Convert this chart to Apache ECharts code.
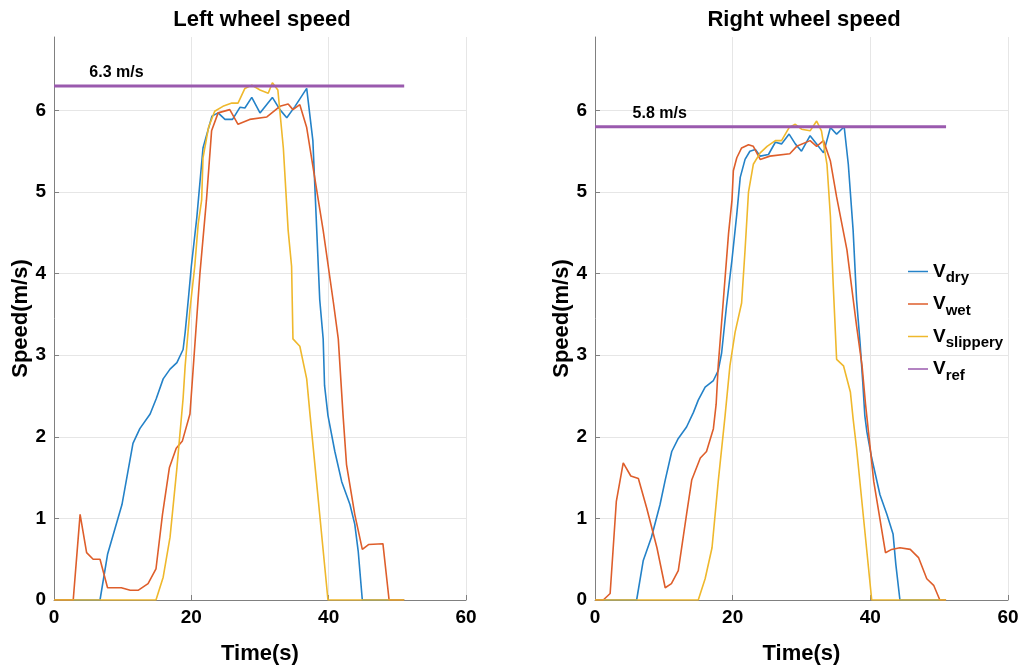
<!DOCTYPE html>
<html>
<head>
    <meta charset="UTF-8">
    <script src="https://cdn.jsdelivr.net/npm/echarts@6/dist/echarts.min.js"></script>
    <style>
      html, body { margin: 0; padding: 0; background: #fff; }
      #main { width: 1028px; height: 670px; }
    </style>
</head>
<body>
<div id="main"></div>
<script>
    // [time (s), speed (m/s)]
    var leftDry = [[0,0],[6.7,0],[7.8,0.56],[9.9,1.17],[11.5,1.92],[12.5,2.1],[14.0,2.28],[14.9,2.47],[15.9,2.71],[16.9,2.83],[17.9,2.91],[18.8,3.07],[19.1,3.28],[19.6,3.72],[20.0,4.09],[20.8,4.69],[21.7,5.54],[23.0,5.93],[23.9,5.97],[24.9,5.89],[26.0,5.89],[27.1,6.04],[27.8,6.03],[28.8,6.16],[30.0,5.97],[31.8,6.16],[32.9,6.01],[33.9,5.91],[35.1,6.05],[36.8,6.27],[37.7,5.63],[38.7,3.68],[39.2,3.2],[39.4,2.63],[39.9,2.26],[40.9,1.82],[41.9,1.45],[43.1,1.17],[43.8,0.93],[44.3,0.6],[44.9,0],[51,0]];
    var leftWet = [[0,0],[2.8,0],[3.8,1.05],[4.75,0.58],[5.7,0.5],[6.7,0.5],[7.8,0.15],[9.8,0.15],[11.1,0.12],[12.3,0.12],[13.7,0.2],[14.85,0.38],[15.8,1.05],[16.8,1.62],[17.8,1.86],[18.7,1.95],[19.8,2.28],[21.25,4.0],[22.2,4.9],[22.95,5.75],[23.9,5.97],[25.6,6.01],[26.8,5.83],[28.5,5.89],[31.0,5.92],[32.9,6.05],[34.1,6.08],[34.8,6.01],[35.8,6.07],[36.8,5.79],[39.2,4.53],[40.7,3.64],[41.4,3.2],[42.1,2.26],[42.6,1.66],[43.8,1.05],[44.9,0.62],[45.8,0.68],[47.9,0.69],[48.8,0],[51,0]];
    var leftSlippery = [[0,0],[14.85,0],[15.9,0.28],[16.9,0.77],[17.9,1.62],[18.8,2.47],[19.1,2.87],[19.8,3.56],[20.5,4.09],[21.0,4.61],[21.5,4.9],[21.7,5.42],[22.5,5.79],[23.4,5.99],[24.6,6.05],[25.9,6.09],[26.8,6.09],[27.8,6.27],[28.8,6.31],[30.0,6.25],[31.2,6.21],[31.8,6.34],[32.6,6.25],[33.4,5.54],[34.1,4.53],[34.6,4.09],[34.8,3.2],[35.8,3.11],[36.8,2.71],[37.3,2.26],[39.9,0],[51,0]];
    var leftRef = [[0,6.3],[51,6.3]];

    var rightDry = [[0,0],[6.05,0],[7.0,0.48],[8.2,0.77],[9.45,1.17],[10.2,1.47],[11.15,1.82],[12.1,1.98],[13.3,2.12],[14.3,2.3],[15.0,2.45],[16.0,2.61],[17.2,2.69],[17.9,2.81],[18.4,3.03],[19.1,3.6],[19.9,4.17],[20.6,4.73],[21.1,5.18],[21.8,5.4],[22.5,5.5],[23.3,5.52],[24.0,5.44],[25.2,5.46],[26.2,5.61],[27.1,5.59],[28.2,5.71],[29.1,5.59],[30.0,5.5],[31.25,5.69],[32.2,5.59],[33.2,5.48],[34.2,5.79],[35.1,5.71],[36.2,5.8],[36.8,5.34],[37.5,4.53],[38.0,3.68],[38.5,3.16],[38.9,2.67],[39.2,2.26],[39.5,2.06],[40.2,1.74],[41.4,1.29],[42.4,1.05],[43.3,0.81],[43.7,0.44],[44.3,0],[51,0]];
    var rightWet = [[0,0],[1.2,0],[2.2,0.08],[3.1,1.21],[4.1,1.68],[5.2,1.52],[6.3,1.49],[7.5,1.13],[9.0,0.64],[10.2,0.15],[11.1,0.2],[12.1,0.36],[13.3,1.05],[14.05,1.47],[15.3,1.74],[16.2,1.82],[17.2,2.1],[17.6,2.4],[17.9,2.87],[18.65,3.68],[19.4,4.49],[19.9,4.9],[20.1,5.26],[20.6,5.42],[21.3,5.54],[22.3,5.58],[23.0,5.56],[24.0,5.4],[25.4,5.44],[28.3,5.47],[29.3,5.56],[31.25,5.63],[32.2,5.56],[33.2,5.63],[34.2,5.38],[35.1,4.94],[36.6,4.29],[38.0,3.36],[38.8,2.87],[39.3,2.4],[40.5,1.45],[42.2,0.58],[43.1,0.62],[44.3,0.64],[45.8,0.62],[47.0,0.52],[48.2,0.26],[49.2,0.18],[50.1,0],[51,0]];
    var rightSlippery = [[0,0],[15.0,0],[16.0,0.26],[17.0,0.64],[17.9,1.45],[18.9,2.26],[19.6,2.87],[20.35,3.28],[21.3,3.64],[21.8,4.29],[22.3,5.0],[23.0,5.34],[24.0,5.48],[25.0,5.56],[26.2,5.63],[27.1,5.63],[28.2,5.79],[29.1,5.83],[30.0,5.77],[31.25,5.75],[32.2,5.87],[32.9,5.75],[33.7,5.34],[34.2,4.7],[34.6,3.88],[35.1,2.95],[36.1,2.87],[37.1,2.55],[37.5,2.22],[38.0,1.86],[40.2,0],[51,0]];
    var rightRef = [[0,5.8],[51,5.8]];

    var titles = ['Left wheel speed', 'Right wheel speed'];
    var refLabels = ['6.3 m/s', '5.8 m/s'];
    var refLabelAt = [9.1, 9.4];
    var names = ['Vdry', 'Vwet', 'Vslippery', 'Vref'];
    var subs = { Vdry: 'dry', Vwet: 'wet', Vslippery: 'slippery', Vref: 'ref' };
    var colors = ['#2482c8', '#de5e2b', '#efb82c', '#9a5aae'];

    var font = '"Liberation Sans", Arial, sans-serif';

    function xAxis(i) {
        return {
            gridIndex: i, type: 'value', min: 0, max: 60, interval: 20,
            name: 'Time(s)', nameLocation: 'middle', nameGap: 43,
            nameTextStyle: { fontSize: 22, fontWeight: 'bold', color: '#000', fontFamily: font },
            axisLine: { show: true, lineStyle: { color: '#808080', width: 1 } },
            axisTick: { show: true, inside: true, length: 5, lineStyle: { color: '#808080' } },
            axisLabel: { fontSize: 19, fontWeight: 'bold', color: '#000', margin: 8, fontFamily: font },
            splitLine: { show: true, lineStyle: { color: '#e6e6e6', width: 1 } }
        };
    }
    function yAxis(i) {
        return {
            gridIndex: i, type: 'value', min: 0, max: 6.9, interval: 1,
            name: 'Speed(m/s)', nameLocation: 'middle', nameGap: 22,
            nameTextStyle: { fontSize: 22, fontWeight: 'bold', color: '#000', fontFamily: font },
            axisLine: { show: true, lineStyle: { color: '#808080', width: 1 } },
            axisTick: { show: true, inside: true, length: 5, lineStyle: { color: '#808080' } },
            axisLabel: { fontSize: 19, fontWeight: 'bold', color: '#000', margin: 8, showMaxLabel: false, fontFamily: font },
            splitLine: { show: true, lineStyle: { color: ['#e6e6e6','#e6e6e6','#e6e6e6','#e6e6e6','#e6e6e6','#e6e6e6','#e6e6e6','rgba(0,0,0,0)'], width: 1 } }
        };
    }

    var panels = [
        [leftDry, leftWet, leftSlippery, leftRef],
        [rightDry, rightWet, rightSlippery, rightRef]
    ];

    var series = [];
    panels.forEach(function (sets, g) {
        sets.forEach(function (data, k) {
            var s = {
                name: names[k], type: 'line', xAxisIndex: g, yAxisIndex: g,
                data: data, showSymbol: false, symbol: 'none', animation: false,
                lineStyle: { color: colors[k], width: k === 3 ? 3 : 1.6 },
                itemStyle: { color: colors[k] }
            };
            if (k === 3) {
                s.markPoint = {
                    symbol: 'circle', symbolSize: 0,
                    label: { show: true, position: 'top', distance: 5, formatter: refLabels[g],
                             fontSize: 16, fontWeight: 'bold', color: '#000', fontFamily: font },
                    data: [{ coord: [refLabelAt[g], data[0][1]] }]
                };
            }
            series.push(s);
        });
    });

    var myChart = echarts.init(document.getElementById('main'));
    var option = {
        backgroundColor: '#fff',
        animation: false,
        color: colors,
        title: [
            { text: titles[0], left: 257, top: 4, textAlign: 'center',
              textStyle: { fontSize: 22, fontWeight: 'bold', color: '#000', fontFamily: font } },
            { text: titles[1], left: 799, top: 4, textAlign: 'center',
              textStyle: { fontSize: 22, fontWeight: 'bold', color: '#000', fontFamily: font } }
        ],
        grid: [
            { left: 54, right: 562, top: 37, bottom: 67 },
            { left: 595, right: 20, top: 37, bottom: 67 }
        ],
        xAxis: [xAxis(0), xAxis(1)],
        yAxis: [yAxis(0), yAxis(1)],
        legend: {
            data: names, orient: 'vertical', left: 903, top: 257,
            icon: 'rect', itemWidth: 20, itemHeight: 1.5, itemGap: 9,
            selectedMode: false,
            formatter: function (name) { return '{v|V}{s|' + subs[name] + '}'; },
            textStyle: {
                color: '#000', fontFamily: font,
                rich: {
                    v: { fontSize: 19, fontWeight: 'bold', color: '#000', fontFamily: font },
                    s: { fontSize: 15, fontWeight: 'bold', color: '#000', fontFamily: font, padding: [13, 0, 0, 0] }
                }
            }
        },
        series: series
    };
    myChart.setOption(option);
</script>
</body>
</html>
